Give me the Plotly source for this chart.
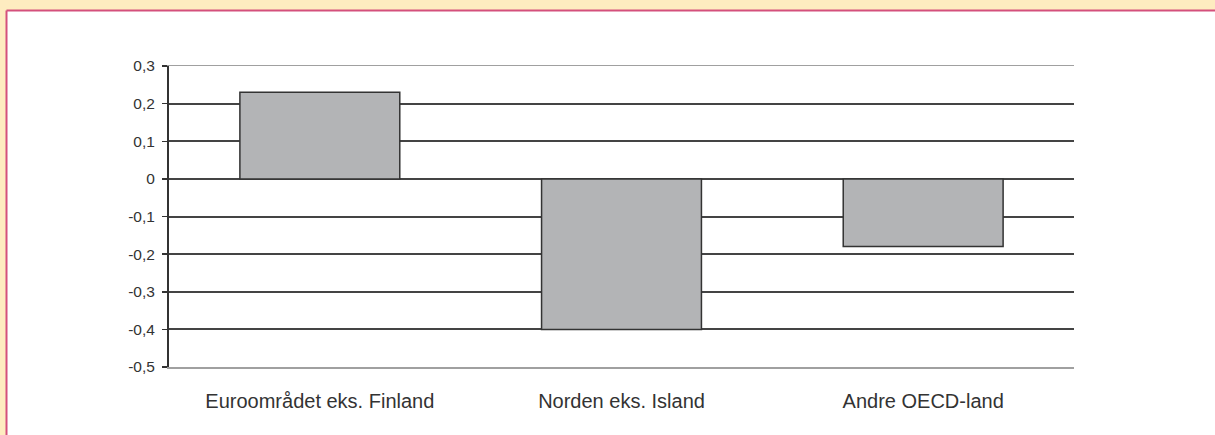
import plotly.graph_objects as go

categories = ["Euroområdet eks. Finland", "Norden eks. Island", "Andre OECD-land"]
values = [0.23, -0.40, -0.18]
y_tickvals = [0.3, 0.2, 0.1, 0, -0.1, -0.2, -0.3, -0.4, -0.5]
y_ticktext = ["0,3", "0,2", "0,1", "0", "-0,1", "-0,2", "-0,3", "-0,4", "-0,5"]

W, H = 1215, 435
L, R, T, B = 169, 141, 66, 68
pw, ph = W - L - R, H - T - B

fig = go.Figure()
fig.add_trace(go.Bar(
    x=categories, y=values, width=0.53,
    marker=dict(color="#B3B4B6", line=dict(color="#333333", width=1.5)),
    hoverinfo="skip",
))

ymin, ymax = -0.5, 0.3
zero_pos = (0 - ymin) / (ymax - ymin)

# paper-coordinate positions of the page frame
px_left = -L / pw
px_frame = (6.5 - L) / pw
px_right = (W - L) / pw
py_top = 1 + T / ph
py_frame = 1 + (T - 10.5) / ph
py_bottom = -B / ph
yellow = "#FEECC0"
pink = "#D4507C"

fig.update_layout(
    width=W, height=H,
    margin=dict(l=L, r=R, t=T, b=B),
    paper_bgcolor="white",
    plot_bgcolor="white",
    showlegend=False,
    font=dict(family="Liberation Sans, Arial, sans-serif", color="#333333"),
    xaxis=dict(
        type="category", range=[-0.5, 2.5],
        showline=True, linecolor="#A0A0A0", linewidth=1.5, mirror=True,
        showgrid=False, ticks="outside", ticklen=0, tickcolor="rgba(0,0,0,0)",
        ticklabelstandoff=15,
        tickfont=dict(size=20, color="#333333"),
        fixedrange=True,
    ),
    xaxis2=dict(
        overlaying="x", anchor="free", position=zero_pos,
        range=[-0.5, 2.5], tickvals=[0.5, 1.5, 2.5],
        showticklabels=False, ticks="outside", ticklen=5, tickwidth=1.5,
        tickcolor="#333333", showline=True, linecolor="#333333", linewidth=2,
        showgrid=False, zeroline=False,
    ),
    yaxis=dict(
        range=[ymin, ymax], tickvals=y_tickvals, ticktext=y_ticktext,
        showline=True, linecolor="#333333", linewidth=2,
        ticks="outside", ticklen=5, tickwidth=1.5, tickcolor="#333333",
        showgrid=True, gridcolor="#444444", gridwidth=2,
        zeroline=False,
        tickfont=dict(size=15.5, color="#333333"),
        ticklabelstandoff=4,
    ),
    yaxis2=dict(
        overlaying="y", side="right", range=[ymin, ymax],
        showline=True, linecolor="#A0A0A0", linewidth=1.5,
        showticklabels=False, showgrid=False, zeroline=False, ticks="",
    ),
    shapes=[
        dict(type="rect", xref="paper", yref="paper", layer="below",
             x0=px_left, x1=px_right, y0=py_frame, y1=py_top,
             fillcolor=yellow, line=dict(width=0)),
        dict(type="rect", xref="paper", yref="paper", layer="below",
             x0=px_left, x1=px_frame, y0=py_bottom, y1=py_top,
             fillcolor=yellow, line=dict(width=0)),
        dict(type="line", xref="paper", yref="paper", layer="below",
             x0=px_frame, x1=px_right, y0=py_frame, y1=py_frame,
             line=dict(color=pink, width=2)),
        dict(type="line", xref="paper", yref="paper", layer="below",
             x0=px_frame, x1=px_frame, y0=py_bottom, y1=py_frame,
             line=dict(color=pink, width=2)),
    ],
)

fig.write_html(
    "out.html",
    config={"displayModeBar": False, "staticPlot": True},
    post_script="document.body.style.margin='0';document.body.style.overflow='hidden';",
)
